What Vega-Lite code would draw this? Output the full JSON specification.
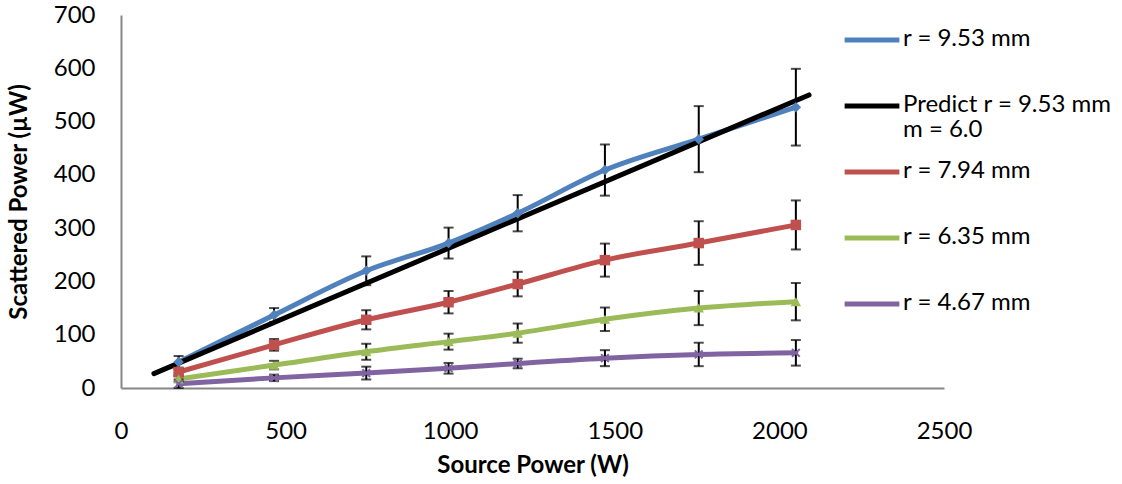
{
  "$schema": "https://vega.github.io/schema/vega-lite/v6.json",
  "width": 823,
  "height": 373,
  "autosize": {"type": "none"},
  "padding": {"left": 121, "top": 15, "right": 178, "bottom": 96},
  "config": {
    "view": {"stroke": null},
    "font": "Lato",
    "axis": {
      "domainColor": "#868686",
      "domainWidth": 2,
      "ticks": false,
      "grid": false,
      "labelFont": "Lato",
      "labelFontSize": 24,
      "labelColor": "#000000",
      "titleFont": "Lato",
      "titleFontSize": 24,
      "titleFontWeight": "bold",
      "titleColor": "#000000"
    }
  },
  "data": {
    "values": [
      {"series": "r = 9.53 mm", "x": 175, "y": 49, "lo": 38, "hi": 60},
      {"series": "r = 9.53 mm", "x": 465, "y": 137, "lo": 124, "hi": 150},
      {"series": "r = 9.53 mm", "x": 745, "y": 220, "lo": 193, "hi": 247},
      {"series": "r = 9.53 mm", "x": 995, "y": 272, "lo": 243, "hi": 301},
      {"series": "r = 9.53 mm", "x": 1205, "y": 328, "lo": 294, "hi": 362},
      {"series": "r = 9.53 mm", "x": 1470, "y": 409, "lo": 361, "hi": 457},
      {"series": "r = 9.53 mm", "x": 1755, "y": 467, "lo": 405, "hi": 529},
      {"series": "r = 9.53 mm", "x": 2050, "y": 527, "lo": 455, "hi": 599},
      {"series": "Predict r = 9.53 mm", "x": 100, "y": 27},
      {"series": "Predict r = 9.53 mm", "x": 2090, "y": 550},
      {"series": "r = 7.94 mm", "x": 175, "y": 30, "lo": 25, "hi": 35},
      {"series": "r = 7.94 mm", "x": 465, "y": 81, "lo": 70, "hi": 92},
      {"series": "r = 7.94 mm", "x": 745, "y": 128, "lo": 110, "hi": 146},
      {"series": "r = 7.94 mm", "x": 995, "y": 161, "lo": 140, "hi": 182},
      {"series": "r = 7.94 mm", "x": 1205, "y": 195, "lo": 172, "hi": 218},
      {"series": "r = 7.94 mm", "x": 1470, "y": 240, "lo": 209, "hi": 271},
      {"series": "r = 7.94 mm", "x": 1755, "y": 272, "lo": 231, "hi": 313},
      {"series": "r = 7.94 mm", "x": 2050, "y": 306, "lo": 260, "hi": 352},
      {"series": "r = 6.35 mm", "x": 175, "y": 17, "lo": 12, "hi": 22},
      {"series": "r = 6.35 mm", "x": 465, "y": 43, "lo": 35, "hi": 51},
      {"series": "r = 6.35 mm", "x": 745, "y": 68, "lo": 53, "hi": 83},
      {"series": "r = 6.35 mm", "x": 995, "y": 87, "lo": 72, "hi": 102},
      {"series": "r = 6.35 mm", "x": 1205, "y": 103, "lo": 85, "hi": 121},
      {"series": "r = 6.35 mm", "x": 1470, "y": 129, "lo": 107, "hi": 151},
      {"series": "r = 6.35 mm", "x": 1755, "y": 150, "lo": 118, "hi": 182},
      {"series": "r = 6.35 mm", "x": 2050, "y": 162, "lo": 127, "hi": 197},
      {"series": "r = 4.67 mm", "x": 175, "y": 8, "lo": 0, "hi": 16},
      {"series": "r = 4.67 mm", "x": 465, "y": 19, "lo": 13, "hi": 25},
      {"series": "r = 4.67 mm", "x": 745, "y": 28, "lo": 16, "hi": 40},
      {"series": "r = 4.67 mm", "x": 995, "y": 37, "lo": 27, "hi": 47},
      {"series": "r = 4.67 mm", "x": 1205, "y": 46, "lo": 37, "hi": 55},
      {"series": "r = 4.67 mm", "x": 1470, "y": 56, "lo": 41, "hi": 71},
      {"series": "r = 4.67 mm", "x": 1755, "y": 63, "lo": 41, "hi": 85},
      {"series": "r = 4.67 mm", "x": 2050, "y": 66, "lo": 42, "hi": 90}
    ]
  },
  "encoding": {
    "x": {
      "field": "x", "type": "quantitative",
      "scale": {"domain": [0, 2500], "nice": false},
      "axis": {"values": [0, 500, 1000, 1500, 2000, 2500], "format": "d", "title": "Source Power (W)", "labelPadding": 31, "titlePadding": 10, "labelFlush": false}
    },
    "y": {
      "field": "y", "type": "quantitative",
      "scale": {"domain": [0, 700], "nice": false},
      "axis": {"values": [0, 100, 200, 300, 400, 500, 600, 700], "format": "d", "title": "Scattered Power (µW)", "labelPadding": 26, "titlePadding": 22, "labelFlush": false}
    }
  },
  "layer": [
    {
      "mark": {"type": "line", "strokeWidth": 5, "strokeCap": "round", "interpolate": "monotone"},
      "encoding": {
        "color": {
          "field": "series", "type": "nominal",
          "scale": {
            "domain": ["r = 9.53 mm", "Predict r = 9.53 mm", "r = 7.94 mm", "r = 6.35 mm", "r = 4.67 mm"],
            "range": ["#4F81BD", "#000000", "#C0504D", "#9BBB59", "#8064A2"]
          },
          "legend": {
            "title": null,
            "orient": "none",
            "legendX": 721,
            "legendY": -5,
            "symbolType": "stroke",
            "symbolSize": 3000,
            "symbolStrokeWidth": 5,
            "labelFont": "Lato",
            "labelFontSize": 24,
            "labelColor": "#000000",
            "labelOffset": 1,
            "labelBaseline": "top",
            "rowPadding": -1,
            "labelLimit": 300,
            "labelExpr": "datum.label == 'Predict r = 9.53 mm' ? ['Predict r = 9.53 mm', 'm = 6.0'] : [datum.label, '']",
            "encode": {"labels": {"update": {"dy": {"value": -13}, "lineHeight": {"value": 25}}}}
          }
        },
        "detail": {"field": "series"}
      }
    },
    {
      "transform": [{"filter": "isValid(datum.lo)"}],
      "mark": {"type": "rule", "color": "#000000", "strokeWidth": 2},
      "encoding": {
        "y": {"field": "lo", "type": "quantitative"},
        "y2": {"field": "hi"}
      }
    },
    {
      "transform": [{"filter": "isValid(datum.lo)"}],
      "mark": {"type": "tick", "color": "#000000", "thickness": 2, "size": 10, "orient": "horizontal"},
      "encoding": {"y": {"field": "lo", "type": "quantitative"}}
    },
    {
      "transform": [{"filter": "isValid(datum.lo)"}],
      "mark": {"type": "tick", "color": "#000000", "thickness": 2, "size": 10, "orient": "horizontal"},
      "encoding": {"y": {"field": "hi", "type": "quantitative"}}
    },
    {
      "transform": [{"filter": "isValid(datum.lo) && datum.series != 'r = 4.67 mm'"}],
      "mark": {"type": "point", "filled": true, "opacity": 1},
      "encoding": {
        "color": {"field": "series", "type": "nominal"},
        "shape": {
          "field": "series", "type": "nominal", "legend": null,
          "scale": {"domain": ["r = 9.53 mm", "r = 7.94 mm", "r = 6.35 mm"], "range": ["diamond", "square", "triangle-up"]}
        },
        "size": {"value": 110}
      }
    },
    {
      "transform": [{"filter": "datum.series == 'r = 4.67 mm'"}],
      "mark": {"type": "point", "filled": false, "opacity": 1, "strokeWidth": 2, "shape": "M-1,-1L1,1M1,-1L-1,1", "size": 60},
      "encoding": {
        "color": {"field": "series", "type": "nominal"}
      }
    }
  ]
}
